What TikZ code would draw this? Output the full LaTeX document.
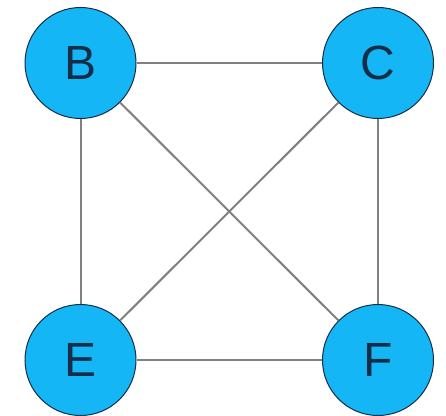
\documentclass[tikz,border=0pt]{standalone}
\usepackage{fontspec}
\setmainfont{Liberation Sans}
\definecolor{vfill}{RGB}{20,182,245}
\definecolor{vline}{RGB}{22,45,72}
\definecolor{eline}{RGB}{128,128,128}
\begin{document}
\begin{tikzpicture}[x=1pt,y=1pt,
  vertex/.style={circle,draw=vline,line width=1pt,fill=vfill,minimum size=111pt,inner sep=0pt,
    text=vline,font=\fontsize{48}{48}\selectfont},
  edge/.style={draw=eline,line width=2pt}]
\useasboundingbox (0,0) rectangle (446,415);
\node[vertex] (B) at (80.5,352) {B};
\node[vertex] (C) at (378,352) {C};
\node[vertex] (E) at (80.5,55) {E};
\node[vertex] (F) at (378,55) {F};
\draw[edge] (B) -- (C);
\draw[edge] (B) -- (E);
\draw[edge] (C) -- (F);
\draw[edge] (E) -- (F);
\draw[edge] (B) -- (F);
\draw[edge] (C) -- (E);
\end{tikzpicture}
\end{document}
